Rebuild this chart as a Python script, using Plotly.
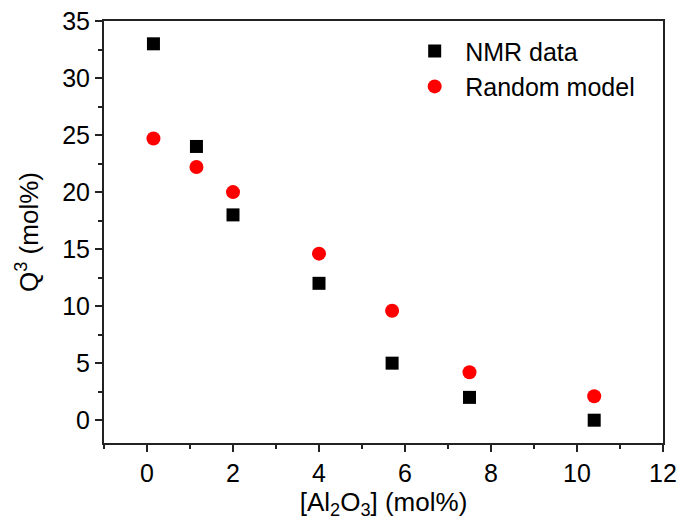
import plotly.graph_objects as go

al2o3 = [0.15, 1.15, 2.0, 4.0, 5.7, 7.5, 10.4]
nmr_q3 = [33.0, 24.0, 18.0, 12.0, 5.0, 2.0, 0.0]
random_q3 = [24.7, 22.2, 20.0, 14.6, 9.6, 4.2, 2.1]

FONT = "Liberation Sans, Arial, sans-serif"

fig = go.Figure()
fig.add_trace(go.Scatter(x=al2o3, y=nmr_q3, mode="markers", name="NMR data",
                         marker=dict(symbol="square", size=13, color="black")))
fig.add_trace(go.Scatter(x=al2o3, y=random_q3, mode="markers", name="Random model",
                         marker=dict(symbol="circle", size=14, color="#ff0000")))

axis_common = dict(showline=True, linecolor="#222", linewidth=2, mirror=True,
                   ticks="outside", ticklen=7, tickwidth=1.5, tickcolor="#222",
                   showgrid=False, zeroline=False, automargin=False,
                   tickfont=dict(size=25, color="black", family=FONT))

fig.update_xaxes(range=[-1, 12], dtick=2, tick0=0,
                 minor=dict(dtick=1, ticks="outside", ticklen=4, tickcolor="#222", tickwidth=1.5),
                 title=dict(text="[Al<sub>2</sub>O<sub>3</sub>] (mol%)", font=dict(size=26, family=FONT, color="black"), standoff=8),
                 **axis_common)
fig.update_yaxes(range=[-2, 35], dtick=5, tick0=0,
                 minor=dict(dtick=2.5, ticks="outside", ticklen=4, tickcolor="#222", tickwidth=1.5),
                 title=dict(text="Q<sup>3</sup> (mol%)", font=dict(size=26, family=FONT, color="black"), standoff=16),
                 **axis_common)

fig.update_layout(width=678, height=520, margin=dict(l=104, r=15, t=21, b=77),
                  plot_bgcolor="white", paper_bgcolor="white",
                  font=dict(family=FONT, size=25, color="black"),
                  legend=dict(x=0.537, y=0.983, xanchor="left", yanchor="top",
                              bgcolor="rgba(0,0,0,0)", font=dict(size=25, family=FONT),
                              itemwidth=51, tracegroupgap=0),
                  showlegend=True)

fig.write_html("out.html")
